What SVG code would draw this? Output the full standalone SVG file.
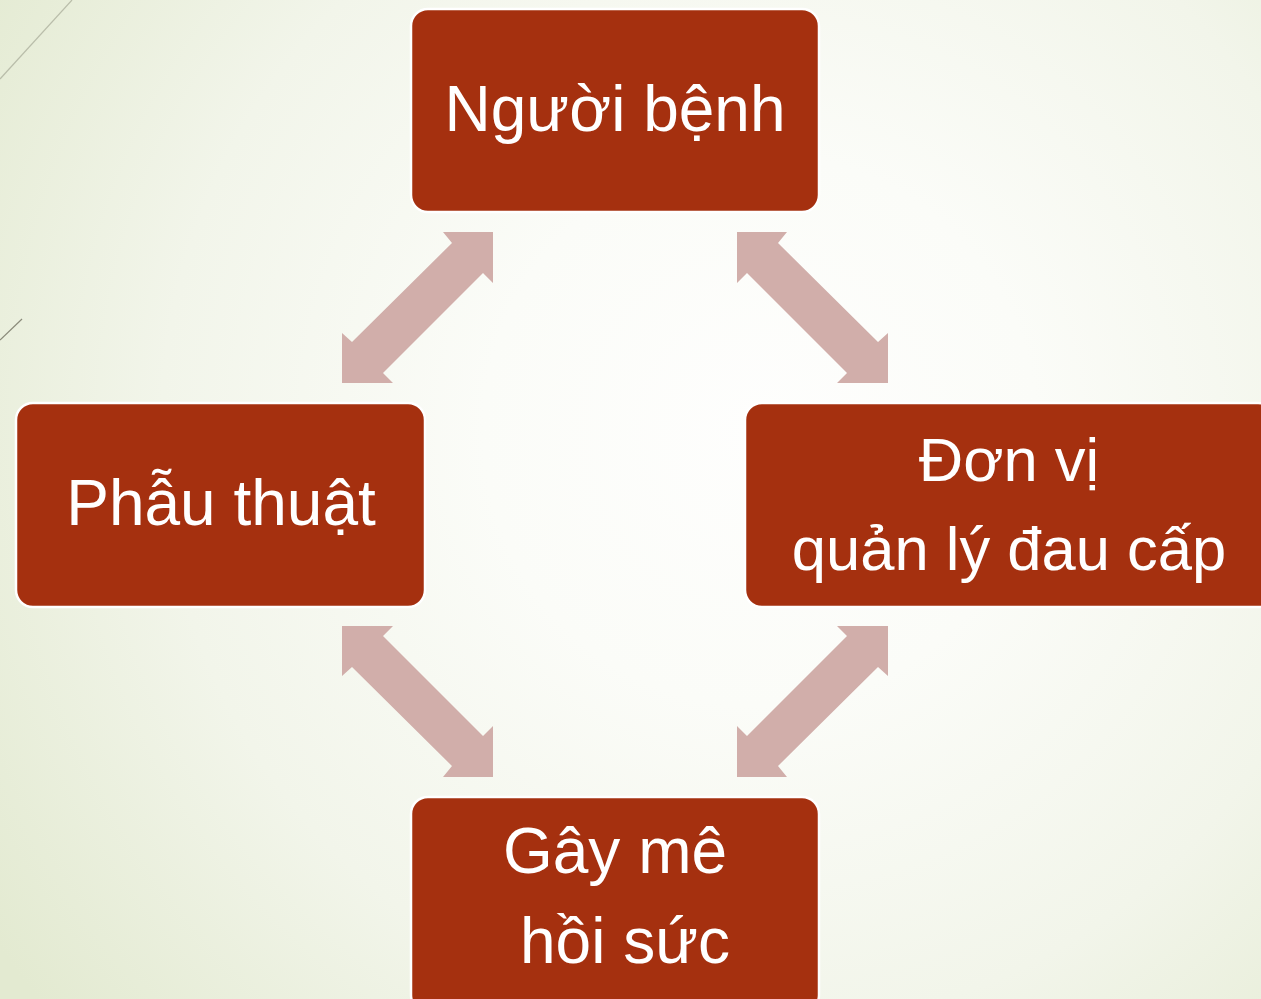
<svg xmlns="http://www.w3.org/2000/svg" width="1261" height="999" viewBox="0 0 1261 999">
<defs>
<radialGradient id="bg" cx="760" cy="430" r="920" gradientUnits="userSpaceOnUse">
<stop offset="0" stop-color="#fefefd"/>
<stop offset="0.3" stop-color="#fbfcf8"/>
<stop offset="0.65" stop-color="#f2f5ea"/>
<stop offset="1" stop-color="#e3ead1"/>
</radialGradient>
<style>
.box{fill:#A5300F;stroke:#ffffff;stroke-width:2.5}
.lbl{font-family:"Liberation Sans",Arial,sans-serif;font-size:64px;fill:#ffffff;text-anchor:middle}
.sm{font-size:61.5px}
.arr{fill:#D1AEAA}
</style>
</defs>
<rect width="1261" height="999" fill="url(#bg)"/>
<line x1="0" y1="79" x2="72" y2="0" stroke="#b9bdaa" stroke-width="1.2"/>
<line x1="0" y1="340" x2="22" y2="319" stroke="#8a8a7a" stroke-width="1.2"/>
<g id="connectors">
<polygon class="arr" points="493,232 493,283 483,273 383,373 393,383 342,383 342,333 352,342 452,243 443,232"/>
<polygon class="arr" points="737,232 737,283 747,273 847,373 837,383 888,383 888,333 878,342 778,243 787,232"/>
<polygon class="arr" points="493,777 493,726 483,736 383,636 393,626 342,626 342,676 352,667 452,766 443,777"/>
<polygon class="arr" points="737,777 737,726 747,736 847,636 837,626 888,626 888,676 878,667 778,766 787,777"/>
</g>
<g id="nguoi-benh">
<rect class="box" x="411" y="9" width="408" height="203" rx="17"/>
<text class="lbl" x="615" y="131">Người bệnh</text>
</g>
<g id="phau-thuat">
<rect class="box" x="16" y="403" width="409" height="204" rx="17"/>
<text class="lbl" x="221" y="525">Phẫu thuật</text>
</g>
<g id="don-vi">
<rect class="box" x="745" y="403" width="530" height="204" rx="17"/>
<text class="lbl sm" x="1009" y="481">Đơn vị</text>
<text class="lbl sm" x="1009" y="570">quản lý đau cấp</text>
</g>
<g id="gay-me">
<rect class="box" x="411" y="797" width="408" height="215" rx="17"/>
<text class="lbl" x="615" y="873">Gây mê</text>
<text class="lbl" x="625" y="963">hồi sức</text>
</g>
</svg>
